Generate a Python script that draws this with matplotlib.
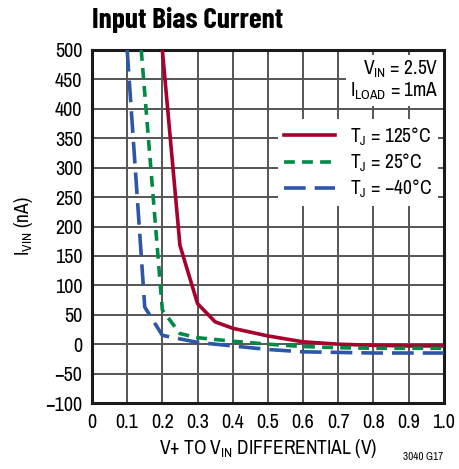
import matplotlib
matplotlib.use("Agg")
import matplotlib.pyplot as plt

plt.rcParams['font.family'] = ['Archivo Narrow', 'DejaVu Sans']
plt.rcParams['mathtext.fontset'] = 'custom'
plt.rcParams['mathtext.rm'] = 'Archivo Narrow'
plt.rcParams['mathtext.default'] = 'regular'

# V+ to VIN differential (V) vs input bias current (nA)
v_125 = [0.20, 0.25, 0.30, 0.35, 0.40, 0.50, 0.60, 0.70, 0.80, 0.90, 1.00]
i_125 = [500, 168, 69, 38, 27, 14, 4, 0, -2, -3, -3]

v_25 = [0.14, 0.20, 0.25, 0.30, 0.40, 0.50, 0.60, 0.70, 0.80, 0.90, 1.00]
i_25 = [500, 58, 18, 11, 5, 0, -4, -6, -7, -7, -7]

v_m40 = [0.10, 0.15, 0.20, 0.30, 0.40, 0.50, 0.60, 0.70, 0.80, 0.90, 1.00]
i_m40 = [500, 63, 15, 3, -3, -9, -13, -14, -15, -15, -15]

x_ticks = [0, 0.1, 0.2, 0.3, 0.4, 0.5, 0.6, 0.7, 0.8, 0.9, 1.0]
x_ticklabels = ['0', '0.1', '0.2', '0.3', '0.4', '0.5', '0.6', '0.7', '0.8', '0.9', '1.0']
y_ticks = list(range(-100, 501, 50))
y_ticklabels = [str(t).replace('-', '\u2212') for t in y_ticks]

fig = plt.figure(figsize=(4.59, 4.69), dpi=100)
ax = fig.add_axes([0.2004, 0.1407, 0.7665, 0.7527])

ax.plot(v_125, i_125, color='#a6002c', lw=2.6, label='T$_J$ = 125°C', zorder=3)
ax.plot(v_25, i_25, color='#008a45', lw=2.6, dashes=(3, 2), label='T$_J$ = 25°C', zorder=3)
ax.plot(v_m40, i_m40, color='#2d55a8', lw=2.6, dashes=(6, 2.5), label='T$_J$ = \u221240°C', zorder=3)

ax.set_xlim(0, 1.0)
ax.set_ylim(-100, 500)
ax.set_xticks(x_ticks)
ax.set_xticklabels(x_ticklabels)
ax.set_yticks(y_ticks)
ax.set_yticklabels(y_ticklabels)
ax.tick_params(length=0, labelsize=14.5, pad=7)
ax.grid(True, color='#555555', lw=1.4)
ax.set_axisbelow(True)
for s in ax.spines.values():
    s.set_linewidth(2.2)
    s.set_color('#1a1a1a')

ax.set_xlabel('V+ TO V$_{IN}$ DIFFERENTIAL (V)', fontsize=14, labelpad=4)
ax.set_ylabel('I$_{VIN}$ (nA)', fontsize=14, labelpad=7)

fig.text(0.2004, 0.957, 'Input Bias Current', fontsize=21, fontweight='bold',
         family=['Barlow Condensed', 'Archivo Narrow', 'DejaVu Sans'],
         ha='left', va='center')
fig.text(0.965, 0.015, '3040 G17', fontsize=8, ha='right', va='bottom')

ax.text(0.985, 0.975, 'V$_{IN}$ = 2.5V\nI$_{LOAD}$ = 1mA', transform=ax.transAxes,
        fontsize=14, ha='right', va='top', linespacing=1.05, zorder=4,
        bbox=dict(facecolor='white', edgecolor='none', pad=3))

leg = ax.legend(loc='upper right', bbox_to_anchor=(1.0, 0.82), fontsize=14,
                frameon=True, fancybox=False, framealpha=1, edgecolor='none',
                handlelength=2.6, handletextpad=0.8, labelspacing=0.2,
                borderaxespad=0.3, borderpad=0.3)
leg.set_zorder(5)

fig.savefig('out.png', dpi=100)
